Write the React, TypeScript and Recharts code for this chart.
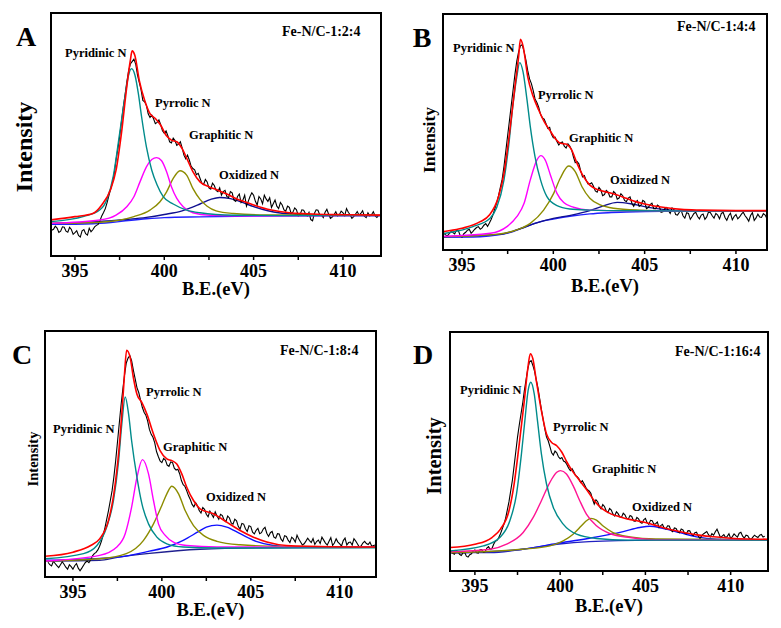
import React from 'react';
import { LineChart, Line, XAxis, YAxis } from 'recharts';

const SERIF = "'Liberation Serif', 'Times New Roman', Times, 'DejaVu Serif', serif";
const TICKS = [395, 397.5, 400, 402.5, 405, 407.5, 410];

// Sampling energies of the measured (raw) spectra, eV
const RAW_E = [
  393.6, 393.7, 393.8, 393.9, 394.0, 394.1, 394.2, 394.3, 394.4, 394.5,
  394.6, 394.7, 394.8, 394.9, 395.0, 395.1, 395.2, 395.3, 395.4, 395.5,
  395.6, 395.7, 395.8, 395.9, 396.0, 396.1, 396.2, 396.3, 396.4, 396.5,
  396.6, 396.7, 396.8, 396.9, 397.0, 397.1, 397.2, 397.3, 397.4, 397.5,
  397.6, 397.7, 397.8, 397.9, 398.0, 398.1, 398.2, 398.3, 398.4, 398.5,
  398.6, 398.7, 398.8, 398.9, 399.0, 399.1, 399.2, 399.3, 399.4, 399.5,
  399.6, 399.7, 399.8, 399.9, 400.0, 400.1, 400.2, 400.3, 400.4, 400.5,
  400.6, 400.7, 400.8, 400.9, 401.0, 401.1, 401.2, 401.3, 401.4, 401.5,
  401.6, 401.7, 401.8, 401.9, 402.0, 402.1, 402.2, 402.3, 402.4, 402.5,
  402.6, 402.7, 402.8, 402.9, 403.0, 403.1, 403.2, 403.3, 403.4, 403.5,
  403.6, 403.7, 403.8, 403.9, 404.0, 404.1, 404.2, 404.3, 404.4, 404.5,
  404.6, 404.7, 404.8, 404.9, 405.0, 405.1, 405.2, 405.3, 405.4, 405.5,
  405.6, 405.7, 405.8, 405.9, 406.0, 406.1, 406.2, 406.3, 406.4, 406.5,
  406.6, 406.7, 406.8, 406.9, 407.0, 407.1, 407.2, 407.3, 407.4, 407.5,
  407.6, 407.7, 407.8, 407.9, 408.0, 408.1, 408.2, 408.3, 408.4, 408.5,
  408.6, 408.7, 408.8, 408.9, 409.0, 409.1, 409.2, 409.3, 409.4, 409.5,
  409.6, 409.7, 409.8, 409.9, 410.0, 410.1, 410.2, 410.3, 410.4, 410.5,
  410.6, 410.7, 410.8, 410.9, 411.0, 411.1, 411.2, 411.3, 411.4, 411.5,
  411.6, 411.7, 411.8, 411.9, 412.0,
];

// ---------- Panel A : Fe-N/C-1:2:4 ----------
const A_RAW = [
  12.0, 10.6, 11.0, 12.3, 11.5, 9.7, 10.2, 12.0, 11.8, 10.2,
  9.8, 11.8, 10.9, 8.9, 9.6, 10.4, 8.5, 7.8, 10.4, 10.9,
  9.2, 8.6, 11.4, 10.0, 10.8, 12.0, 12.6, 13.0, 14.5, 16.5,
  17.9, 19.5, 22.0, 24.9, 27.5, 30.2, 34.0, 39.5, 44.0, 49.0,
  55.0, 61.0, 66.0, 71.5, 76.0, 79.0, 80.0, 81.0, 79.0, 74.5,
  71.5, 68.5, 64.0, 63.5, 62.0, 58.5, 57.0, 58.0, 56.5, 54.5,
  55.0, 56.0, 54.0, 51.5, 50.5, 51.5, 49.5, 47.0, 46.5, 48.5,
  47.5, 45.5, 46.0, 47.0, 44.5, 41.5, 40.0, 41.5, 39.5, 37.0,
  36.0, 35.5, 33.5, 34.0, 32.0, 30.0, 29.5, 31.5, 30.5, 28.0,
  27.5, 30.0, 29.0, 27.0, 26.5, 28.0, 25.0, 26.5, 27.0, 24.5,
  24.0, 26.5, 26.0, 23.0, 22.5, 24.5, 25.5, 22.0, 23.0, 25.0,
  20.5, 22.5, 24.5, 26.0, 25.0, 22.5, 21.0, 24.5, 23.5, 21.5,
  25.0, 23.5, 22.5, 24.0, 20.0, 21.5, 23.0, 20.5, 19.5, 22.0,
  21.0, 19.0, 18.5, 20.5, 20.0, 17.5, 18.0, 19.8, 19.0, 16.5,
  17.0, 19.0, 18.8, 17.5, 16.5, 18.0, 15.0, 14.5, 17.5, 19.0,
  18.8, 17.0, 16.8, 15.8, 18.0, 19.2, 17.2, 15.5, 16.0, 17.0,
  18.2, 16.5, 17.0, 18.5, 17.8, 16.6, 19.5, 18.0, 17.0, 15.5,
  16.2, 17.2, 18.3, 16.8, 17.5, 18.6, 16.4, 15.8, 17.8, 16.5,
  17.0, 18.2, 16.5, 15.9, 16.8,
];
const A_FIT = [[393.6,14.8],[395,16.2],[396,17.5],[396.5,21.0],[397,27.5],[397.3,35.3],[397.6,50.4],[397.9,69.6],[398.1,80.5],[398.2,84.4],[398.35,82.6],[398.6,72.3],[398.9,64.1],[399.2,58.6],[399.5,56.6],[399.8,53.8],[400.1,49.7],[400.4,47.7],[400.7,47.0],[401.0,44.2],[401.3,39.5],[401.6,34.7],[402.0,30.5],[402.5,28.5],[403.0,27.1],[403.5,25.5],[404.0,23.7],[404.5,22.3],[405,21.0],[406,18.9],[407,17.8],[408,17.4],[409,17.1],[410,17.0],[412.2,16.8]];
const A_PYD = [[393.6,14.1],[395.5,16.3],[396.4,19.0],[396.8,23.5],[397.15,33.0],[397.5,50.4],[397.8,65.5],[398.0,74.4],[398.17,77.1],[398.36,74.4],[398.55,66.8],[398.73,57.3],[399.0,44.9],[399.3,35.3],[399.6,29.2],[399.94,24.4],[400.5,21.4],[401.25,18.9],[402,17.8],[403.9,16.8],[407,16.6],[412.2,16.6]];
const A_PYR = [[393.6,13.4],[396.4,14.8],[397.3,16.8],[397.9,20.3],[398.3,24.4],[398.64,30.5],[399.0,36.7],[399.3,39.7],[399.57,40.5],[399.85,39.2],[400.13,34.7],[400.4,28.5],[400.7,23.7],[401.06,20.3],[401.6,17.8],[402.55,16.8],[405,16.5],[412.2,16.6]];
const A_GRA = [[393.6,13.4],[396.4,13.9],[398.3,16.2],[399.2,18.9],[399.76,22.3],[400.13,26.4],[400.5,31.9],[400.88,35.1],[401.25,33.3],[401.6,27.8],[402,23.3],[402.4,20.5],[402.9,18.6],[403.86,17.5],[405.7,16.9],[412.2,16.7]];
const A_OXI = [[393.6,13.4],[396,14.0],[398,15.1],[399,15.9],[400,17.1],[401,18.6],[402,21.4],[402.6,23.3],[403.1,24.1],[403.7,23.6],[404.3,22.3],[405,20.3],[405.8,18.6],[406.5,17.7],[407.5,17.1],[409,16.8],[412.2,16.7]];
const A_BASE = [[393.6,13.0],[396,13.3],[397,13.8],[398,14.6],[399,15.3],[400,15.8],[402,16.1],[405,16.4],[412.2,16.6]];

// ---------- Panel B : Fe-N/C-1:4:4 ----------
const B_RAW = [
  7.0, 5.8, 6.5, 7.8, 7.2, 6.4, 6.0, 6.9, 7.8, 7.4,
  6.8, 8.6, 8.2, 6.2, 5.5, 6.9, 7.5, 8.4, 8.8, 7.1,
  7.9, 8.8, 9.5, 9.9, 8.8, 9.4, 10.5, 11.2, 10.0, 11.4,
  13.0, 15.0, 17.5, 20.0, 23.0, 26.5, 30.0, 35.5, 42.0, 48.5,
  55.0, 61.5, 68.0, 74.5, 80.0, 84.0, 86.5, 87.0, 84.0, 80.5,
  76.0, 72.5, 70.5, 67.5, 64.0, 62.5, 60.5, 57.5, 56.0, 55.5,
  53.5, 51.5, 52.0, 49.0, 47.5, 47.8, 46.0, 44.5, 45.5, 45.8,
  44.0, 43.2, 45.0, 44.0, 42.5, 39.5, 37.0, 37.5, 36.5, 33.5,
  31.0, 31.5, 29.5, 28.0, 28.0, 28.5, 27.0, 25.0, 24.5, 26.5,
  25.5, 23.0, 23.5, 25.2, 24.5, 22.5, 22.5, 24.8, 24.0, 21.5,
  22.0, 23.8, 23.0, 21.0, 20.5, 22.0, 22.5, 19.8, 18.5, 20.2,
  21.0, 18.5, 19.0, 21.0, 20.5, 17.5, 18.0, 19.2, 19.8, 17.5,
  17.5, 19.0, 18.5, 16.0, 16.2, 17.5, 18.0, 16.8, 15.5, 17.8,
  17.2, 15.0, 14.8, 16.0, 16.8, 14.5, 13.5, 15.8, 15.5, 13.0,
  14.2, 15.5, 16.0, 14.2, 13.2, 14.8, 15.2, 13.0, 14.0, 16.2,
  15.8, 14.5, 13.5, 15.5, 14.8, 13.2, 15.5, 16.0, 13.8, 12.6,
  14.5, 15.6, 12.8, 14.2, 15.0, 13.2, 14.0, 15.2, 16.0, 14.5,
  13.5, 12.2, 14.6, 15.8, 12.5, 13.6, 15.2, 14.0, 13.8, 15.4,
  14.8, 13.2, 13.0, 14.6, 14.0,
];
const B_FIT = [[393.6,7.3],[394.0,7.8],[395,9.2],[396,12.0],[396.5,14.8],[397.0,22.6],[397.3,32.5],[397.6,49.4],[397.9,69.2],[398.1,81.9],[398.2,89.3],[398.35,86.2],[398.6,73.4],[398.9,65.0],[399.2,59.3],[399.5,54.4],[399.8,50.8],[400.1,47.3],[400.4,45.2],[400.7,44.9],[401.0,42.4],[401.3,36.7],[401.6,31.8],[402.0,27.5],[402.5,25.4],[403.0,24.4],[403.5,23.3],[404.0,21.9],[404.5,20.5],[405,19.5],[406,18.1],[407,17.2],[408,16.9],[410,16.7],[412,16.7]];
const B_PYD = [[393.6,6.5],[394.1,7.1],[395.6,9.9],[396.55,13.6],[396.9,18.0],[397.3,29.7],[397.55,43.8],[397.8,62.1],[398.0,73.4],[398.16,79.4],[398.34,75.6],[398.56,63.6],[398.74,52.3],[399.0,39.5],[399.3,29.7],[399.65,22.6],[400.2,18.8],[400.9,17.4],[402,16.9],[404,16.6],[412,16.5]];
const B_PYR = [[393.6,5.7],[396.55,7.1],[397.46,9.9],[398.0,14.1],[398.4,19.8],[398.74,29.7],[399.1,38.1],[399.32,40.0],[399.56,38.1],[399.84,31.8],[400.2,24.0],[400.57,20.1],[401.1,18.1],[402,16.9],[404,16.6],[412,16.5]];
const B_GRA = [[393.6,5.5],[396.55,6.4],[398.0,8.5],[398.74,11.3],[399.47,16.9],[400.02,24.0],[400.38,30.4],[400.84,35.6],[401.2,33.2],[401.57,26.8],[402.0,21.9],[402.57,19.1],[403.3,17.7],[404.76,16.9],[406.5,16.6],[412,16.5]];
const B_OXI = [[393.6,5.6],[397,6.6],[398,8.5],[399,11.3],[400,13.4],[401,14.8],[402,16.7],[402.7,18.6],[403.5,20.2],[404.3,19.5],[405,18.4],[406,17.2],[407,16.7],[409,16.5],[412,16.5]];
const B_BASE = [[393.6,5.4],[396,5.6],[397,6.4],[397.8,7.8],[398.5,9.9],[399.3,12.0],[400,13.1],[401,14.4],[402,15.3],[403,15.8],[404,16.1],[406,16.4],[412,16.5]];

// ---------- Panel C : Fe-N/C-1:8:4 ----------
const C_RAW = [
  6.0, 5.0, 4.5, 6.4, 5.5, 4.6, 3.8, 5.0, 6.2, 5.2,
  4.0, 3.2, 5.0, 4.2, 3.2, 4.6, 5.5, 3.6, 2.5, 3.6,
  4.8, 5.9, 6.5, 5.8, 7.0, 8.6, 9.5, 10.0, 11.0, 12.5,
  14.5, 17.0, 20.0, 23.5, 27.0, 31.0, 35.0, 40.5, 47.0, 54.5,
  62.0, 69.5, 76.0, 82.0, 87.0, 89.0, 90.0, 88.0, 84.0, 80.5,
  77.0, 75.0, 72.0, 69.0, 67.0, 65.8, 63.5, 60.0, 58.0, 56.8,
  54.5, 51.0, 49.0, 47.2, 46.5, 48.2, 47.5, 45.5, 45.0, 46.8,
  46.5, 44.2, 43.5, 43.8, 42.0, 39.2, 37.5, 36.8, 35.0, 33.0,
  31.5, 29.5, 28.5, 30.2, 29.0, 27.0, 26.0, 28.2, 27.5, 25.5,
  24.5, 26.8, 25.5, 24.2, 26.5, 24.8, 23.5, 25.5, 25.0, 23.2,
  22.5, 24.8, 24.0, 22.0, 21.5, 23.5, 22.8, 20.5, 19.5, 21.8,
  21.5, 19.6, 18.5, 20.8, 20.5, 18.2, 17.5, 19.0, 19.8, 17.6,
  18.0, 19.5, 20.2, 17.8, 16.5, 18.0, 18.5, 16.2, 15.8, 17.6,
  17.5, 15.4, 14.5, 16.8, 16.5, 15.0, 14.0, 16.2, 15.5, 14.2,
  17.0, 15.4, 14.2, 13.0, 13.5, 14.6, 15.8, 14.8, 14.0, 15.6,
  13.2, 14.4, 15.0, 13.6, 16.2, 15.0, 13.8, 13.0, 14.5, 16.0,
  12.8, 13.8, 15.5, 14.2, 13.5, 12.6, 14.8, 15.8, 13.0, 14.0,
  14.2, 13.0, 15.6, 14.6, 13.4, 12.2, 12.6, 13.8, 14.5, 13.6,
  13.2, 14.2, 12.5, 12.8, 13.0,
];
const C_FIT = [[393.4,8.4],[395,10.1],[396,12.8],[396.5,15.5],[397.0,23.0],[397.3,33.8],[397.6,52.7],[397.8,71.6],[397.9,82.4],[398.02,92.2],[398.22,89.2],[398.4,81.0],[398.6,74.3],[398.88,70.9],[399.16,66.2],[399.53,58.1],[399.9,51.4],[400.28,48.0],[400.56,47.3],[400.84,45.9],[401.12,41.9],[401.4,36.5],[401.78,31.1],[402.15,27.7],[402.9,25.7],[403.65,22.3],[404.4,18.9],[405.15,16.2],[405.9,14.2],[407.0,12.8],[409.6,12.3],[412.1,12.2]];
const C_PYD = [[393.4,7.4],[395.6,9.5],[396.35,12.8],[396.9,20.3],[397.28,31.1],[397.57,47.3],[397.75,62.2],[397.94,73.2],[398.13,66.2],[398.3,55.4],[398.6,40.5],[398.88,29.7],[399.25,21.6],[399.72,16.2],[400.28,13.5],[401.2,12.2],[403.1,11.8],[412.1,11.9]];
const C_PYR = [[393.4,6.5],[396.5,8.8],[397.47,12.2],[397.94,17.6],[398.3,28.4],[398.6,40.5],[398.91,47.7],[399.25,41.9],[399.53,31.1],[399.81,21.6],[400.19,16.9],[400.65,14.2],[401.4,12.8],[403.1,12.2],[412.1,12.1]];
const C_GRA = [[393.4,6.5],[396.5,7.4],[398.0,9.5],[398.97,14.9],[399.53,21.6],[400.0,29.1],[400.28,33.8],[400.56,36.9],[400.94,33.8],[401.31,27.0],[401.78,20.9],[402.34,16.9],[403.1,14.5],[404.4,13.1],[406.8,12.4],[412.1,12.2]];
const C_OXI = [[393.4,6.8],[397.5,8.1],[399.3,10.5],[400.3,12.2],[401.2,14.9],[402.0,18.2],[402.5,20.3],[403.1,21.1],[403.65,20.3],[404.4,17.6],[405.3,14.5],[406.27,12.8],[407.4,12.2],[409,12.1],[412.1,12.2]];
const C_BASE = [[393.4,6.5],[396.5,6.8],[397.5,8.0],[399.3,9.6],[402.15,11.3],[405.9,11.9],[412.1,12.1]];

// ---------- Panel D : Fe-N/C-1:16:4 ----------
const D_RAW = [
  8.5, 7.4, 7.0, 8.6, 8.2, 7.0, 6.5, 7.6, 7.8, 6.2,
  5.8, 6.8, 7.2, 8.4, 8.8, 7.6, 7.5, 8.9, 9.0, 7.8,
  8.0, 9.6, 10.2, 9.0, 9.4, 11.2, 12.5, 12.8, 14.0, 15.6,
  17.5, 19.5, 22.0, 25.5, 29.0, 33.5, 38.0, 44.0, 50.0, 56.0,
  61.0, 65.5, 70.0, 75.5, 80.0, 84.5, 87.5, 88.0, 86.0, 83.5,
  80.0, 76.5, 72.0, 67.5, 63.5, 59.5, 56.0, 54.5, 52.0, 49.5,
  48.5, 50.2, 49.5, 47.8, 47.0, 47.5, 46.0, 45.6, 44.5, 43.0,
  42.0, 42.8, 41.5, 40.0, 39.5, 38.6, 37.0, 37.8, 36.5, 35.0,
  34.0, 33.5, 32.5, 30.0, 28.0, 29.8, 29.0, 27.0, 26.0, 27.8,
  27.0, 25.2, 24.5, 26.2, 25.5, 23.8, 23.0, 24.8, 24.0, 22.6,
  22.5, 24.2, 23.5, 22.0, 21.8, 23.2, 22.8, 21.0, 20.8, 22.4,
  21.8, 20.4, 20.0, 21.4, 22.0, 20.2, 19.5, 21.2, 21.0, 19.6,
  19.8, 20.5, 18.2, 19.0, 19.5, 18.0, 17.6, 18.9, 18.8, 17.0,
  16.5, 18.0, 17.8, 16.4, 16.0, 17.6, 17.2, 15.8, 15.5, 16.9,
  16.8, 15.4, 14.8, 16.0, 16.2, 14.6, 13.5, 14.8, 15.5, 16.0,
  16.5, 15.2, 14.2, 15.6, 15.0, 16.4, 17.5, 15.8, 14.0, 14.6,
  15.2, 14.0, 14.5, 15.6, 13.6, 14.4, 15.5, 14.8, 14.2, 15.8,
  16.2, 14.6, 13.8, 15.0, 14.8, 13.6, 13.2, 14.2, 15.0, 14.4,
  14.0, 15.0, 15.3, 14.2, 14.5,
];
const D_FIT = [[393.5,9.8],[395,11.2],[396,14.0],[396.5,17.5],[397.0,25.2],[397.3,36.4],[397.6,53.1],[397.9,71.3],[398.1,84.6],[398.25,90.9],[398.4,88.8],[398.6,79.7],[398.9,67.1],[399.2,57.3],[399.5,53.8],[399.8,52.4],[400.1,49.7],[400.4,45.5],[400.7,42.0],[401.0,39.2],[401.3,36.4],[401.6,33.6],[402.0,29.4],[402.5,25.9],[403.0,23.8],[403.5,22.7],[404.0,21.7],[404.5,21.0],[405.0,20.3],[405.5,19.3],[406.0,18.2],[407.0,16.5],[408.0,15.1],[409.0,14.3],[410.0,13.7],[411.0,13.4],[412.2,13.3]];
const D_PYD = [[393.5,8.4],[395.5,10.5],[396.46,14.0],[397.05,21.0],[397.44,32.2],[397.73,49.0],[397.93,62.9],[398.12,75.5],[398.28,79.0],[398.48,74.1],[398.67,62.9],[398.9,49.0],[399.2,36.4],[399.6,26.6],[400.18,19.6],[400.96,15.4],[402.13,13.6],[404,12.9],[412.2,12.9]];
const D_PYR = [[393.5,8.0],[395.9,9.1],[396.86,11.2],[397.83,16.1],[398.42,22.4],[398.9,29.4],[399.4,37.1],[399.8,41.3],[400.02,42.0],[400.37,40.6],[400.76,35.7],[401.15,29.4],[401.54,23.8],[402.13,18.9],[402.9,15.7],[404.1,14.0],[405.6,13.1],[412.2,13.1]];
const D_GRA = [[393.5,7.6],[397.8,9.1],[399.4,10.5],[400.18,12.6],[400.76,15.4],[401.25,18.9],[401.54,21.0],[401.8,22.0],[402.13,21.3],[402.5,18.9],[403.1,16.1],[404.1,14.3],[405.6,13.4],[412.2,13.1]];
const D_OXI = [[393.5,7.5],[397.8,9.1],[399.8,11.5],[401.7,13.7],[403.7,16.5],[404.67,18.2],[405.25,18.7],[406.0,17.9],[407.0,16.1],[408.0,14.3],[409.16,13.3],[410.5,13.1],[412.2,13.0]];
const D_BASE = [[393.5,7.7],[395.9,7.7],[397.8,9.1],[399.8,11.2],[401.7,12.3],[405.6,12.9],[412.2,13.1]];

const PEAK_NAMES = ['Pyridinic N', 'Pyrrolic N', 'Graphitic N', 'Oxidized N'];

type Pt = { e: number; v: number };
const toPts = (arr: number[][]): Pt[] => arr.map(([e, v]) => ({ e, v }));
const rawPts = (vals: number[]): Pt[] =>
  RAW_E.map((e, i) => ({ e, v: vals[i] })).filter((p) => typeof p.v === 'number');

type Series = { pts: Pt[]; color: string; width: number; smooth: boolean };
type Lbl = { text: string; x: number; y: number };
type PanelSpec = {
  left: number; top: number; w: number; h: number;
  domain: [number, number];
  series: Series[];
  letter: string; letterPos: [number, number];
  sample: string; samplePos: [number, number];
  labels: Lbl[];
  intensity: { x: number; y: number; size: number };
  beY: number;
};

const mk = (raw: number[], fit: number[][], pyd: number[][], pyr: number[][], gra: number[][], oxi: number[][], base: number[][], pyrColor: string, oxiColor: string, baseColor: string): Series[] => [
  { pts: toPts(base), color: baseColor, width: 1.4, smooth: true },
  { pts: toPts(oxi), color: oxiColor, width: 1.4, smooth: true },
  { pts: rawPts(raw), color: '#000000', width: 1.1, smooth: false },
  { pts: toPts(gra), color: '#8c8c00', width: 1.4, smooth: true },
  { pts: toPts(pyr), color: pyrColor, width: 1.4, smooth: true },
  { pts: toPts(pyd), color: '#008b8b', width: 1.4, smooth: true },
  { pts: toPts(fit), color: '#ff0000', width: 1.6, smooth: true },
];

const PANELS: PanelSpec[] = [
  {
    left: 51, top: 13, w: 330, h: 243, domain: [393.66, 412.13],
    series: mk(A_RAW, A_FIT, A_PYD, A_PYR, A_GRA, A_OXI, A_BASE, '#ff00ff', '#101090', '#2020ff'),
    letter: 'A', letterPos: [26, 37], sample: 'Fe-N/C-1:2:4', samplePos: [282, 32],
    labels: [
      { text: PEAK_NAMES[0], x: 65, y: 53 }, { text: PEAK_NAMES[1], x: 155, y: 103 },
      { text: PEAK_NAMES[2], x: 189, y: 135 }, { text: PEAK_NAMES[3], x: 219, y: 175 },
    ],
    intensity: { x: 24, y: 147, size: 24 }, beY: 289,
  },
  {
    left: 443, top: 14, w: 324, h: 236, domain: [393.96, 411.7],
    series: mk(B_RAW, B_FIT, B_PYD, B_PYR, B_GRA, B_OXI, B_BASE, '#ff00ff', '#101090', '#2020ff'),
    letter: 'B', letterPos: [422, 38], sample: 'Fe-N/C-1:4:4', samplePos: [677, 27],
    labels: [
      { text: PEAK_NAMES[0], x: 453, y: 48 }, { text: PEAK_NAMES[1], x: 538, y: 95 },
      { text: PEAK_NAMES[2], x: 569, y: 138 }, { text: PEAK_NAMES[3], x: 610, y: 180 },
    ],
    intensity: { x: 430, y: 140, size: 17.5 }, beY: 286,
  },
  {
    left: 45, top: 331, w: 331, h: 246, domain: [393.43, 412.04],
    series: mk(C_RAW, C_FIT, C_PYD, C_PYR, C_GRA, C_OXI, C_BASE, '#ff00ff', '#1010ff', '#202090'),
    letter: 'C', letterPos: [22, 355], sample: 'Fe-N/C-1:8:4', samplePos: [280, 351],
    labels: [
      { text: PEAK_NAMES[0], x: 53, y: 429 }, { text: PEAK_NAMES[1], x: 146, y: 392 },
      { text: PEAK_NAMES[2], x: 163, y: 447 }, { text: PEAK_NAMES[3], x: 206, y: 497 },
    ],
    intensity: { x: 33, y: 459, size: 14.5 }, beY: 610,
  },
  {
    left: 450, top: 332, w: 318, h: 239, domain: [393.54, 412.19],
    series: mk(D_RAW, D_FIT, D_PYD, D_PYR, D_GRA, D_OXI, D_BASE, '#ff1493', '#1010ff', '#2020c0'),
    letter: 'D', letterPos: [423, 355], sample: 'Fe-N/C-1:16:4', samplePos: [675, 352],
    labels: [
      { text: PEAK_NAMES[0], x: 460, y: 390 }, { text: PEAK_NAMES[1], x: 553, y: 427 },
      { text: PEAK_NAMES[2], x: 592, y: 469 }, { text: PEAK_NAMES[3], x: 632, y: 507 },
    ],
    intensity: { x: 434, y: 456, size: 20.5 }, beY: 606,
  },
];

const bold: React.CSSProperties = { position: 'absolute', fontFamily: SERIF, fontWeight: 'bold', color: '#000', whiteSpace: 'nowrap', lineHeight: 1 };

const fmt = (v: number) => (v % 5 === 0 ? String(v) : '');

function Panel({ p }: { p: PanelSpec }) {
  return (
    <>
      <div style={{ position: 'absolute', left: p.left, top: p.top }}>
        <LineChart width={p.w} height={p.h + 50} margin={{ top: 0, right: 0, bottom: 0, left: 0 }}>
          <XAxis
            type="number"
            dataKey="e"
            domain={p.domain}
            allowDataOverflow
            ticks={TICKS}
            interval={0}
            tickFormatter={fmt}
            tickSize={4}
            tickMargin={4}
            height={50}
            axisLine={{ stroke: '#000', strokeWidth: 2 }}
            tickLine={{ stroke: '#000', strokeWidth: 1.5 }}
            tick={{ fill: '#000', fontSize: 18, fontWeight: 'bold', fontFamily: SERIF }}
          />
          <YAxis hide type="number" domain={[0, 100]} allowDataOverflow />
          {p.series.map((s, i) => (
            <Line
              key={i}
              data={s.pts}
              dataKey="v"
              type={s.smooth ? 'monotone' : 'linear'}
              stroke={s.color}
              strokeWidth={s.width}
              dot={false}
              activeDot={false}
              isAnimationActive={false}
            />
          ))}
        </LineChart>
      </div>
      <div style={{ position: 'absolute', left: p.left - 1, top: p.top - 1, width: p.w + 2, height: p.h + 2, border: '2px solid #000', boxSizing: 'border-box', pointerEvents: 'none' }} />
      <div style={{ ...bold, left: p.letterPos[0], top: p.letterPos[1], fontSize: 28, transform: 'translate(-50%, -50%)' }}>{p.letter}</div>
      <div style={{ ...bold, left: p.samplePos[0], top: p.samplePos[1], fontSize: 14, transform: 'translateY(-50%)' }}>{p.sample}</div>
      {p.labels.map((l, i) => (
        <div key={i} style={{ ...bold, left: l.x, top: l.y, fontSize: 12.5, transform: 'translateY(-50%)' }}>{l.text}</div>
      ))}
      <div style={{ ...bold, left: p.intensity.x, top: p.intensity.y, fontSize: p.intensity.size, transform: 'translate(-50%, -50%) rotate(-90deg)' }}>Intensity</div>
      <div style={{ ...bold, left: p.left + p.w / 2, top: p.beY, fontSize: 18.5, transform: 'translate(-50%, -50%)' }}>B.E.(eV)</div>
    </>
  );
}

export default function App() {
  return (
    <div style={{ position: 'absolute', left: 0, top: 0, width: 781, height: 628, background: '#fff', overflow: 'hidden', fontFamily: SERIF }}>
      {PANELS.map((p, i) => (
        <Panel key={i} p={p} />
      ))}
    </div>
  );
}
